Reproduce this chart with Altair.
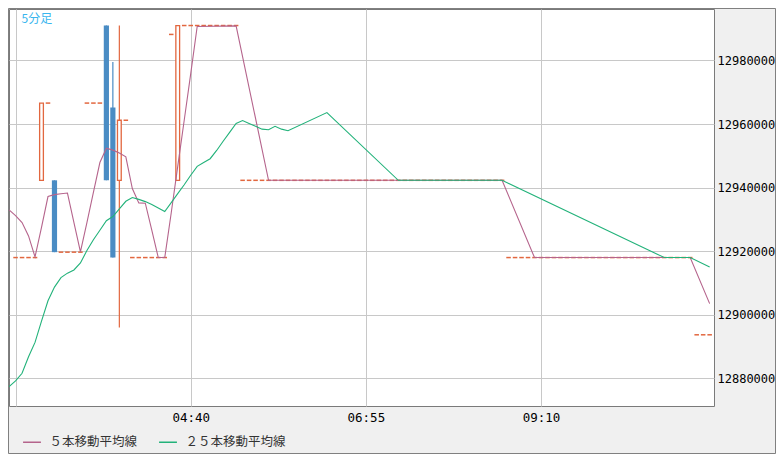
import altair as alt
import numpy as np
import pandas as pd

# ---- price levels ----
A = 12918000
B = 12966600
C = 12919700
D = 12942300
E = 12991000
F = 12961200
G = 12893700
H = 12988200

# candles as runs of identical bars (bar 0 = 02:25, 5-minute bars)
run_len = [4, 1, 1, 1, 4, 3, 1, 1, 1, 1, 6, 1, 1, 9, 41, 29, 3]
run_open = [A, D, B, D, C, B, E, 12965200, D, F, A, H, D, E, D, A, G]
run_high = [A, B, B, D, C, B, E, 12979500, E, F, A, H, E, E, D, A, G]
run_low = [A, D, B, C, C, B, D, A, 12896000, F, A, H, D, E, D, A, G]
run_close = [A, B, B, C, C, B, D, A, F, F, A, H, E, E, D, A, G]

# 5-bar moving average (vertices)
ma5_bars = [-1, 0, 1, 2, 3, 4, 5, 6, 7, 8, 9, 10, 11, 12, 13, 14, 15, 16, 17, 18, 19,
            20, 21, 22, 23, 24, 25, 26, 27, 28, 34, 39, 75, 80, 104, 107]
ma5_vals = [12933000, 12931200, 12929000, 12924800, 12918200, 12927500, 12937200,
            12937800, 12938100, 12938300, 12929000, 12919800, 12929000, 12938500,
            12947900, 12952400, 12951800, 12950900, 12949700, 12939700, 12935200,
            12935100, 12926600, 12918000, 12918000, 12932100, 12946700, 12961200,
            12975800, 12990700, 12990900, 12942300, 12942300, 12918000, 12918000,
            12903500]

# 25-bar moving average (vertices)
ma25_bars = [-1, 0, 1, 2, 3, 4, 5, 6, 7, 8, 9, 10, 11, 12, 13, 14, 15, 16, 17, 18, 19,
             20, 21, 22, 23, 24, 25, 26, 27, 28, 29, 30, 31, 32, 33, 34, 35, 36, 37, 38,
             39, 40, 41, 42, 48, 59, 75, 100, 104, 107]
ma25_vals = [12877400, 12879200, 12881600, 12886800, 12891300, 12898000, 12904400,
             12908700, 12911700, 12913100, 12914100, 12916300, 12920200, 12923600,
             12926600, 12929600, 12930900, 12933300, 12935700, 12936900, 12936300,
             12935600, 12934700, 12933600, 12932500, 12935300, 12938100, 12940900,
             12943900, 12946700, 12947900, 12949100, 12951700, 12954600, 12957400,
             12960200, 12961100, 12960200, 12959300, 12958400, 12958200, 12959300,
             12958400, 12957900, 12963600, 12942300, 12942300, 12918000, 12918000,
             12915000]

series_names = ["５本移動平均線", "２５本移動平均線"]
series_colors = ["#b5648c", "#22b27a"]

tick_bars = [0, 27, 54, 81]
tick_labels = ["", "04:40", "06:55", "09:10"]
y_ticks = [12880000, 12900000, 12920000, 12940000, 12960000, 12980000]

ORANGE = "#e2673f"
BLUE = "#4a8cc4"
GRID = "#c8c8c8"
MONO = "DejaVu Sans Mono"
JP = "Noto Sans CJK JP"

# ---- tables ----
n = sum(run_len)
candles = pd.DataFrame({
    "bar": np.arange(n),
    "open": np.repeat(run_open, run_len),
    "high": np.repeat(run_high, run_len),
    "low": np.repeat(run_low, run_len),
    "close": np.repeat(run_close, run_len),
})
candles["kind"] = np.where(candles.close > candles.open, "up",
                           np.where(candles.close < candles.open, "down", "doji"))

ma = pd.concat([
    pd.DataFrame({"bar": ma5_bars, "price": ma5_vals, "series": series_names[0]}),
    pd.DataFrame({"bar": ma25_bars, "price": ma25_vals, "series": series_names[1]}),
])

label_expr = " : ".join(
    f"datum.value == {b} ? '{t}'" for b, t in zip(tick_bars, tick_labels)) + " : ''"

xscale = alt.Scale(domain=[-1.011, 107.67], nice=False, zero=False)
yscale = alt.Scale(domain=[12871300, 12996200], nice=False, zero=False)

xaxis = alt.Axis(values=tick_bars, labelExpr=label_expr, title=None, grid=True,
                 gridColor=GRID, gridWidth=1, ticks=False, tickSize=0, domain=False,
                 labelFont=MONO, labelFontSize=12.5, labelColor="#000000",
                 labelPadding=11.5, labelBaseline="middle", labelFlush=False,
                 labelOverlap=False)
yaxis = alt.Axis(orient="right", values=y_ticks, format="d", title=None, grid=True,
                 gridColor=GRID, gridWidth=1, ticks=False, tickSize=0, domain=False,
                 labelFont=MONO, labelFontSize=12, labelColor="#000000",
                 labelPadding=3, labelAlign="left", labelBaseline="middle",
                 labelOverlap=False)

base = alt.Chart(candles)


def wick_layer(kind, color):
    return base.transform_filter(f"datum.kind == '{kind}'").mark_rule(
        strokeWidth=1.2, color=color
    ).encode(
        x=alt.X("bar:Q", scale=xscale, axis=xaxis),
        y=alt.Y("high:Q", scale=yscale, axis=yaxis),
        y2="low:Q",
    )


up_wicks = wick_layer("up", ORANGE)
down_wicks = wick_layer("down", BLUE)

up_bodies = base.transform_filter("datum.kind == 'up'").transform_calculate(
    x1="datum.bar - 0.29", x2="datum.bar + 0.29"
).mark_rect(fill="white", stroke=ORANGE, strokeWidth=1.3).encode(
    x=alt.X("x1:Q", scale=xscale, axis=xaxis),
    x2="x2:Q",
    y=alt.Y("open:Q", scale=yscale, axis=yaxis),
    y2="close:Q",
)

down_bodies = base.transform_filter("datum.kind == 'down'").transform_calculate(
    x1="datum.bar - 0.4", x2="datum.bar + 0.4"
).mark_rect(fill=BLUE, strokeWidth=0).encode(
    x=alt.X("x1:Q", scale=xscale, axis=xaxis),
    x2="x2:Q",
    y=alt.Y("open:Q", scale=yscale, axis=yaxis),
    y2="close:Q",
)

dojis = base.transform_filter("datum.kind == 'doji'").transform_calculate(
    x1="datum.bar - 0.35", x2="datum.bar + 0.35"
).mark_rule(color=ORANGE, strokeWidth=1.5).encode(
    x=alt.X("x1:Q", scale=xscale, axis=xaxis),
    x2="x2:Q",
    y=alt.Y("close:Q", scale=yscale, axis=yaxis),
)

lines = alt.Chart(ma).mark_line(strokeWidth=1.1, clip=True).encode(
    x=alt.X("bar:Q", scale=xscale, axis=xaxis),
    y=alt.Y("price:Q", scale=yscale, axis=yaxis),
    order="bar:Q",
    color=alt.Color("series:N",
                    scale=alt.Scale(domain=series_names, range=series_colors),
                    legend=alt.Legend(title=None, orient="none", legendX=13, legendY=423,
                                      direction="horizontal", symbolType="stroke",
                                      symbolSize=320, symbolStrokeWidth=1.5,
                                      labelFont=JP, labelFontSize=12.5,
                                      labelColor="#333333", labelOffset=7.5,
                                      columnPadding=18, padding=0, labelLimit=300)),
)

title = alt.Chart(pd.DataFrame({"t": ["5分足"]})).mark_text(
    align="left", baseline="alphabetic", font=JP, fontSize=12, color="#38b6ee"
).encode(x=alt.value(12.5), y=alt.value(13.5), text="t:N")

frame = alt.Chart(pd.DataFrame({"a": [0]})).mark_rect(
    fill="transparent", stroke="#808080", strokeWidth=1, clip=False
).encode(x=alt.value(-0.5), x2=alt.value(766.5), y=alt.value(-0.5), y2=alt.value(444.5))

chart = alt.layer(up_wicks, down_wicks, up_bodies, down_bodies, dojis, lines, title,
                  frame).properties(
    width=705, height=397,
    autosize=alt.AutoSizeParams(type="none"),
    padding={"left": 1, "top": 1, "right": 62, "bottom": 48},
).configure(background="#f0f0f0").configure_view(
    fill="white", stroke="#7a7a7a", strokeWidth=1
)

chart.save("out.html", embed_options={"renderer": "svg", "actions": False})
